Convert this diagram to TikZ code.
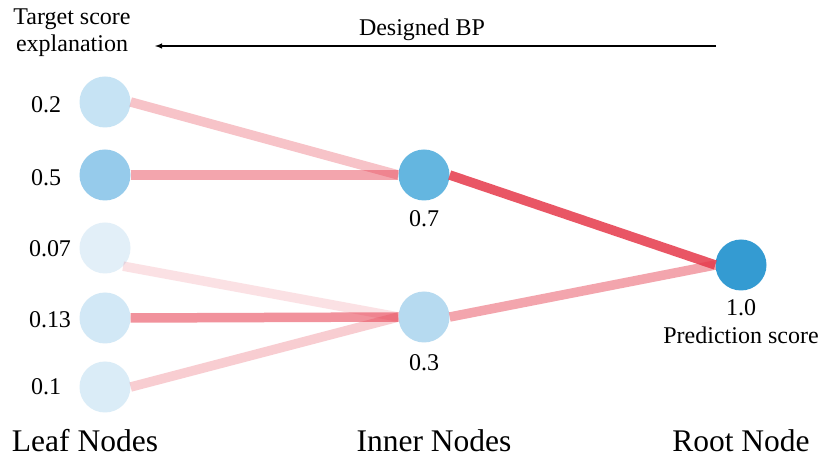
\documentclass[tikz,border=0pt]{standalone}
\usepackage{fontspec}
\setmainfont{Liberation Serif}
\definecolor{edgered}{RGB}{230,57,75}
\definecolor{nroot}{RGB}{52,155,210}
\definecolor{nin1}{RGB}{100,182,224}
\definecolor{nin2}{RGB}{182,218,240}
\definecolor{nl1}{RGB}{198,227,244}
\definecolor{nl2}{RGB}{150,203,235}
\definecolor{nl3}{RGB}{226,239,248}
\definecolor{nl4}{RGB}{210,232,246}
\definecolor{nl5}{RGB}{218,236,247}
\tikzset{
  circ/.style={circle,draw=none,inner sep=0pt,minimum size=51pt},
  lbl/.style={font=\fontsize{24}{28}\selectfont,inner sep=0pt,anchor=base},
  biglbl/.style={font=\fontsize{31.5}{36}\selectfont,inner sep=0pt,anchor=base},
  wedge/.style={line width=9.5pt,draw=edgered,line cap=butt}
}
\begin{document}
\begin{tikzpicture}[x=1pt,y=-1pt]
\useasboundingbox[fill=white] (0,0) rectangle (823,462);
% nodes
\node[circ,fill=nl1] (l1) at (105,102) {};
\node[circ,fill=nl2] (l2) at (105,175) {};
\node[circ,fill=nl3] (l3) at (105,248) {};
\node[circ,fill=nl4] (l4) at (105,318) {};
\node[circ,fill=nl5] (l5) at (105,387) {};
\node[circ,fill=nin1] (i1) at (424,175) {};
\node[circ,fill=nin2] (i2) at (424,317) {};
\node[circ,fill=nroot] (r) at (741,265) {};
% edges
\draw[wedge,draw opacity=0.3] (l1.east) -- (i1.west);
\draw[wedge,draw opacity=0.45] (l2.east) -- (i1.west);
\draw[wedge,draw opacity=0.15] (l3.-45) -- (i2.west);
\draw[wedge,draw opacity=0.55] (l4.east) -- (i2.west);
\draw[wedge,draw opacity=0.25] (l5.east) -- (i2.west);
\draw[wedge,draw opacity=0.85] (i1.east) -- (r.west);
\draw[wedge,draw opacity=0.45] (i2.east) -- (r.west);
% leaf labels
\node[lbl] (t1) at (46,113) {0.2};
\node[lbl] (t2) at (46,186) {0.5};
\node[lbl] (t3) at (50,257) {0.07};
\node[lbl] (t4) at (50,328) {0.13};
\node[lbl] (t5) at (46,395) {0.1};
\node[lbl] (t6) at (424,227) {0.7};
\node[lbl] (t7) at (424,371) {0.3};
\node[lbl] (t8) at (741,316) {1.0};
\node[lbl] (t9) at (741,344) {Prediction score};
% top
\node[lbl] (ts1) at (72,25) {Target score};
\node[lbl] (ts2) at (72,52) {explanation};
\coordinate (ar) at (716,46);
\coordinate (al) at (155,46);
\draw[line width=1.4pt,-latex] (ar) -- (al);
\node[lbl] (bp) at (422,36) {Designed BP};
% bottom
\node[biglbl] (b1) at (85,452) {Leaf Nodes};
\node[biglbl] (b2) at (434,452) {Inner Nodes};
\node[biglbl] (b3) at (741,452) {Root Node};
\end{tikzpicture}
\end{document}
